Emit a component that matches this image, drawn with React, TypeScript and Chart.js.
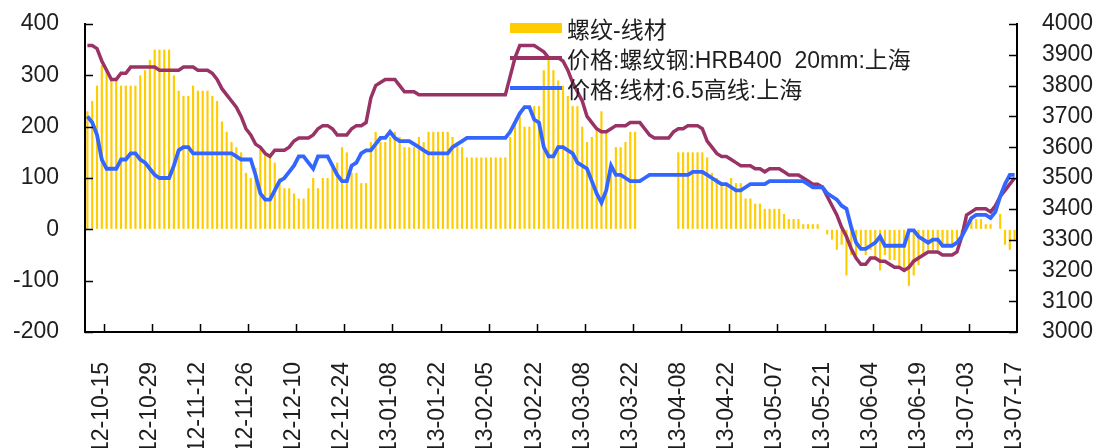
import React, { useEffect, useRef } from 'react';
import { Chart, registerables } from 'chart.js';

Chart.register(...registerables);

const dates = [
  '12-10-10','12-10-11','12-10-12',
  '12-10-15','12-10-16','12-10-17','12-10-18','12-10-19','12-10-22','12-10-23','12-10-24','12-10-25','12-10-26',
  '12-10-29','12-10-30','12-10-31','12-11-01','12-11-02','12-11-05','12-11-06','12-11-07','12-11-08','12-11-09',
  '12-11-12','12-11-13','12-11-14','12-11-15','12-11-16','12-11-19','12-11-20','12-11-21','12-11-22','12-11-23',
  '12-11-26','12-11-27','12-11-28','12-11-29','12-11-30','12-12-03','12-12-04','12-12-05','12-12-06','12-12-07',
  '12-12-10','12-12-11','12-12-12','12-12-13','12-12-14','12-12-17','12-12-18','12-12-19','12-12-20','12-12-21',
  '12-12-24','12-12-25','12-12-26','12-12-27','12-12-28','12-12-31','13-01-04','13-01-05','13-01-06','13-01-07',
  '13-01-08','13-01-09','13-01-10','13-01-11','13-01-14','13-01-15','13-01-16','13-01-17','13-01-18','13-01-21',
  '13-01-22','13-01-23','13-01-24','13-01-25','13-01-28','13-01-29','13-01-30','13-01-31','13-02-01','13-02-04',
  '13-02-05','13-02-06','13-02-07','13-02-08','13-02-16','13-02-17','13-02-18','13-02-19','13-02-20','13-02-21',
  '13-02-22','13-02-25','13-02-26','13-02-27','13-02-28','13-03-01','13-03-04','13-03-05','13-03-06','13-03-07',
  '13-03-08','13-03-11','13-03-12','13-03-13','13-03-14','13-03-15','13-03-18','13-03-19','13-03-20','13-03-21',
  '13-03-22','13-03-25','13-03-26','13-03-27','13-03-28','13-03-29','13-04-01','13-04-02','13-04-03','13-04-07',
  '13-04-08','13-04-09','13-04-10','13-04-11','13-04-12','13-04-15','13-04-16','13-04-17','13-04-18','13-04-19',
  '13-04-22','13-04-23','13-04-24','13-04-25','13-04-26','13-04-27','13-04-28','13-05-02','13-05-03','13-05-06',
  '13-05-07','13-05-08','13-05-09','13-05-10','13-05-13','13-05-14','13-05-15','13-05-16','13-05-17','13-05-20',
  '13-05-21','13-05-22','13-05-23','13-05-24','13-05-27','13-05-28','13-05-29','13-05-30','13-05-31','13-06-03',
  '13-06-04','13-06-05','13-06-06','13-06-07','13-06-08','13-06-09','13-06-13','13-06-14','13-06-17','13-06-18',
  '13-06-19','13-06-20','13-06-21','13-06-24','13-06-25','13-06-26','13-06-27','13-06-28','13-07-01','13-07-02',
  '13-07-03','13-07-04','13-07-05','13-07-08','13-07-09','13-07-10','13-07-11','13-07-12','13-07-15','13-07-16','13-07-17',
];

const tickLabels = [
  '12-10-15','12-10-29','12-11-12','12-11-26','12-12-10','12-12-24','13-01-08','13-01-22','13-02-05','13-02-22',
  '13-03-08','13-03-22','13-04-08','13-04-22','13-05-07','13-05-21','13-06-04','13-06-19','13-07-03','13-07-17',
];

const leftTicks = [-200, -100, 0, 100, 200, 300, 400];
const rightTicks = [3000, 3100, 3200, 3300, 3400, 3500, 3600, 3700, 3800, 3900, 4000];

const spreadValues: (number | null)[] = [
  230,250,280,320,310,290,290,280,280,280,
  280,300,310,330,350,350,350,350,300,270,
  260,260,280,270,270,270,260,250,210,190,
  170,160,150,110,100,120,160,150,140,130,
  100,80,80,70,60,60,80,100,80,100,
  100,120,130,160,150,110,110,90,90,170,
  190,170,170,180,190,180,160,160,160,180,
  170,190,190,190,190,190,180,170,160,140,
  140,140,140,140,140,140,140,140,180,210,
  220,200,200,240,240,310,330,310,290,280,
  260,240,240,200,170,180,200,230,190,130,
  160,160,170,190,190,null,null,null,null,null,
  null,null,null,150,150,150,150,150,150,140,
  110,100,90,90,100,90,90,60,60,50,
  50,40,40,40,40,30,20,20,20,10,
  10,10,10,0,-10,-20,-40,-30,-90,-50,
  -50,-40,-50,-40,-60,-80,-50,-60,-60,-70,
  -80,-110,-90,-70,-50,-40,-40,-40,-30,-30,
  -30,-20,-10,30,20,20,20,10,10,0,
  30,-30,-40,-20,
];

const rebarPrices = [
  3930,3930,3920,3880,3850,3820,3820,3840,3840,3860,
  3860,3860,3860,3860,3860,3850,3850,3850,3850,3850,
  3860,3860,3860,3850,3850,3850,3840,3820,3790,3770,
  3750,3730,3700,3660,3640,3610,3600,3580,3570,3590,
  3590,3590,3600,3620,3630,3630,3630,3640,3660,3670,
  3670,3660,3640,3640,3640,3660,3670,3670,3680,3760,
  3800,3810,3820,3820,3820,3800,3780,3780,3780,3770,
  3770,3770,3770,3770,3770,3770,3770,3770,3770,3770,
  3770,3770,3770,3770,3770,3770,3770,3770,3830,3890,
  3930,3930,3930,3930,3920,3910,3890,3890,3890,3880,
  3850,3810,3780,3750,3700,3680,3660,3650,3650,3660,
  3670,3670,3670,3680,3680,3680,3660,3640,3630,3630,
  3630,3630,3650,3660,3660,3670,3670,3670,3660,3620,
  3600,3580,3570,3570,3560,3550,3540,3540,3540,3530,
  3530,3520,3530,3530,3530,3520,3510,3510,3510,3500,
  3490,3480,3480,3470,3440,3410,3380,3340,3310,3270,
  3240,3220,3220,3240,3240,3230,3230,3220,3210,3210,
  3200,3210,3230,3240,3250,3260,3260,3260,3250,3250,
  3250,3260,3310,3380,3390,3400,3400,3400,3390,3410,
  3440,3460,3480,3500,
];

const wirePrices = [
  3700,3680,3640,3560,3530,3530,3530,3560,3560,3580,
  3580,3560,3550,3530,3510,3500,3500,3500,3540,3590,
  3600,3600,3580,3580,3580,3580,3580,3580,3580,3580,
  3580,3570,3560,3560,3560,3510,3450,3430,3430,3460,
  3490,3500,3520,3540,3570,3570,3550,3530,3570,3570,
  3570,3540,3510,3490,3490,3540,3550,3580,3590,3590,
  3610,3630,3630,3650,3630,3620,3620,3620,3610,3600,
  3590,3580,3580,3580,3580,3580,3600,3610,3620,3630,
  3630,3630,3630,3630,3630,3630,3630,3630,3650,3680,
  3710,3730,3730,3690,3680,3600,3570,3570,3600,3600,
  3590,3580,3550,3540,3530,3490,3450,3420,3460,3540,
  3510,3510,3500,3490,3490,3490,3500,3510,3510,3510,
  3510,3510,3510,3510,3510,3510,3520,3520,3520,3510,
  3500,3490,3480,3480,3470,3460,3460,3470,3480,3480,
  3480,3480,3490,3490,3490,3490,3490,3490,3490,3490,
  3480,3470,3470,3470,3450,3440,3430,3410,3400,3340,
  3290,3270,3270,3280,3290,3310,3280,3280,3280,3280,
  3280,3330,3330,3310,3300,3290,3300,3300,3280,3280,
  3280,3290,3310,3340,3370,3380,3380,3380,3370,3390,
  3440,3480,3510,3510,
];

const seriesNames = ['螺纹-线材', '价格:螺纹钢:HRB400  20mm:上海', '价格:线材:6.5高线:上海'];
const seriesColors = ['#FFCC00', '#993366', '#3366FF'];

const FONT = '"Liberation Sans", Arial, "Noto Sans CJK SC", sans-serif';
const TEXT_COLOR = '#1e1e1e';

const tickMarksPlugin = {
  id: 'tickMarks',
  afterDraw(chart: any) {
    const { ctx, chartArea, scales } = chart;
    const len = 8;
    ctx.save();
    ctx.strokeStyle = '#000';
    ctx.lineWidth = 1.5;
    ctx.beginPath();
    leftTicks.forEach((v) => {
      const py = Math.round(scales.y.getPixelForValue(v)) + 0.5;
      ctx.moveTo(chartArea.left, py);
      ctx.lineTo(chartArea.left + len, py);
    });
    rightTicks.forEach((v) => {
      const py = Math.round(scales.y1.getPixelForValue(v)) + 0.5;
      ctx.moveTo(chartArea.right - len, py);
      ctx.lineTo(chartArea.right, py);
    });
    dates.forEach((d, i) => {
      if (!tickLabels.includes(d) || i >= dates.length - 1) return;
      const px = Math.round((scales.x.getPixelForValue(i) + scales.x.getPixelForValue(i + 1)) / 2) + 0.5;
      ctx.moveTo(px, chartArea.bottom);
      ctx.lineTo(px, chartArea.bottom - len);
    });
    ctx.stroke();
    ctx.restore();
  },
};

const hiddenGrid = (len: number) => ({
  display: true,
  drawOnChartArea: false,
  drawTicks: true,
  tickLength: len,
  color: 'rgba(0,0,0,0)',
});

export default function App() {
  const canvasRef = useRef<HTMLCanvasElement | null>(null);

  useEffect(() => {
    if (!canvasRef.current) return;
    const chart = new Chart(canvasRef.current, {
      type: 'bar',
      data: {
        labels: dates,
        datasets: [
          {
            type: 'line',
            label: seriesNames[2],
            data: wirePrices,
            yAxisID: 'y1',
            borderColor: seriesColors[2],
            backgroundColor: seriesColors[2],
            borderWidth: 3.8,
            pointRadius: 0,
            tension: 0,
            order: 1,
          },
          {
            type: 'line',
            label: seriesNames[1],
            data: rebarPrices,
            yAxisID: 'y1',
            borderColor: seriesColors[1],
            backgroundColor: seriesColors[1],
            borderWidth: 3.5,
            pointRadius: 0,
            tension: 0,
            order: 2,
          },
          {
            type: 'bar',
            label: seriesNames[0],
            data: spreadValues,
            yAxisID: 'y',
            backgroundColor: seriesColors[0],
            borderWidth: 0,
            barPercentage: 0.45,
            categoryPercentage: 1,
            order: 3,
          },
        ],
      },
      options: {
        responsive: false,
        maintainAspectRatio: false,
        animation: false,
        devicePixelRatio: 1,
        layout: { padding: { top: 24, bottom: 0, left: 0, right: 0 } },
        font: { family: FONT, size: 23 },
        plugins: { legend: { display: false }, tooltip: { enabled: false } },
        scales: {
          x: {
            type: 'category',
            offset: true,
            grid: { ...hiddenGrid(30), offset: true },
            border: { display: true, color: '#000', width: 2 },
            ticks: {
              autoSkip: false,
              maxRotation: 90,
              minRotation: 90,
              padding: 0,
              color: TEXT_COLOR,
              font: { family: FONT, size: 23 },
              callback: (_v: any, i: number) => (tickLabels.includes(dates[i]) ? dates[i] : ''),
            },
            afterFit: (s: any) => { s.height = 116; },
          },
          y: {
            position: 'left',
            min: -200,
            max: 400,
            grid: hiddenGrid(26),
            border: { display: true, color: '#000', width: 2 },
            ticks: {
              stepSize: 100,
              padding: 0,
              color: TEXT_COLOR,
              font: { family: FONT, size: 23 },
              callback: (v: any) => String(v),
            },
            afterFit: (s: any) => { s.width = 85; },
          },
          y1: {
            position: 'right',
            min: 3000,
            max: 4000,
            grid: hiddenGrid(25),
            border: { display: true, color: '#000', width: 2 },
            ticks: {
              stepSize: 100,
              padding: 0,
              color: TEXT_COLOR,
              font: { family: FONT, size: 23 },
              callback: (v: any) => String(v),
            },
            afterFit: (s: any) => { s.width = 86; },
          },
        },
      } as any,
      plugins: [tickMarksPlugin],
    });
    return () => chart.destroy();
  }, []);

  const rowStyle: React.CSSProperties = { display: 'flex', alignItems: 'center', height: 30, whiteSpace: 'nowrap' };

  return (
    <div style={{ position: 'absolute', left: 0, top: 0, width: 1103, height: 448, background: '#fff', overflow: 'hidden' }}>
      <canvas ref={canvasRef} width={1103} height={448} style={{ position: 'absolute', left: 0, top: 0, width: 1103, height: 448 }} />
      <div style={{ position: 'absolute', left: 510, top: 13, fontFamily: FONT, fontSize: 23, color: TEXT_COLOR }}>
        {seriesNames.map((name, i) => (
          <div key={name} style={rowStyle}>
            <div style={{ width: 52, height: i === 0 ? 10 : 3.5, background: seriesColors[i], marginRight: 5 }} />
            <span style={{ whiteSpace: 'pre' }}>{name}</span>
          </div>
        ))}
      </div>
    </div>
  );
}
